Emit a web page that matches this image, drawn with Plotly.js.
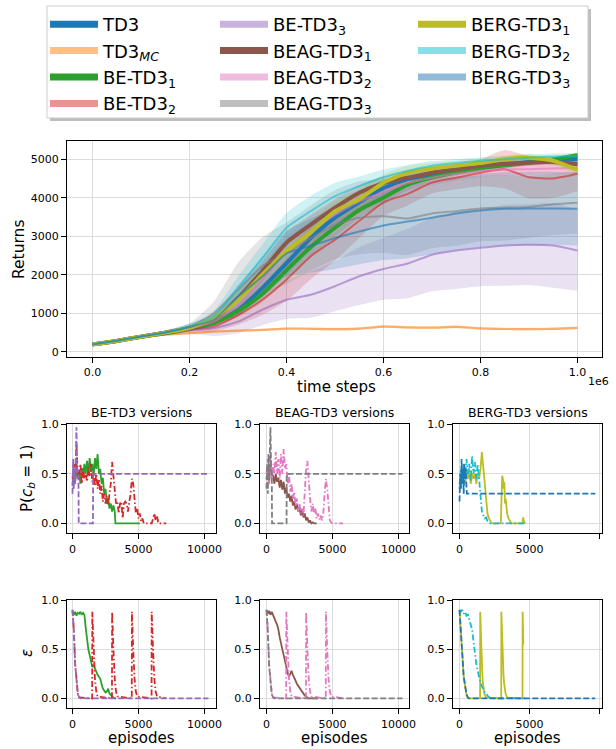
<!DOCTYPE html>
<html><head><meta charset="utf-8">
<script src="https://cdn.plot.ly/plotly-3.0.1.min.js"></script>
<style>html,body{margin:0;padding:0;background:#fff}#chart{width:616px;height:749px}</style>
</head><body><div id="chart"></div>
<script>
const W = 616, H = 749;
const FONT = 'DejaVu Sans, sans-serif';

// ---------- main plot data (time steps) ----------
const STEPS = [0,50000,100000,150000,200000,250000,300000,350000,400000,450000,500000,550000,600000,650000,700000,750000,800000,850000,900000,950000,1000000];
const X_TICKVALS = [0,200000,400000,600000,800000,1000000];
const X_TICKTEXT = ['0.0','0.2','0.4','0.6','0.8','1.0'];
const Y_TICKVALS = [0,1000,2000,3000,4000,5000];

const TD3_MEAN   = [190,280,390,490,600,760,1080,1650,2300,2950,3480,3880,4250,4480,4610,4700,4790,4860,4930,4970,5000];
const TD3_STD    = [20,25,30,40,50,80,150,250,300,320,300,260,220,180,150,130,110,100,90,80,80];
const MC_MEAN    = [185,275,380,440,480,520,545,565,600,595,585,600,650,630,625,645,605,590,585,595,620];
const MC_STD     = [15,15,20,20,25,25,30,30,30,35,35,35,35,35,35,35,35,35,35,35,35];
const BE1_MEAN   = [185,275,385,480,590,740,1050,1500,2120,2720,3220,3680,4000,4340,4520,4650,4760,4840,4910,4990,5100];
const BE1_STD    = [20,25,30,40,50,80,150,220,260,260,240,200,170,140,120,100,90,80,70,60,60];
const BE2_MEAN   = [185,275,380,475,570,650,950,1350,1870,2480,2910,3400,3880,4100,4390,4520,4650,4740,4530,4500,4620];
const BE2_STD    = [20,25,30,40,60,120,250,400,550,600,550,450,350,300,280,300,350,500,550,500,450];
const BE3_MEAN   = [185,270,370,460,550,610,780,1090,1350,1480,1700,1960,2150,2290,2520,2630,2700,2760,2780,2760,2630];
const BE3_STD    = [20,25,30,40,80,200,300,400,500,600,650,750,800,900,950,1000,1000,1050,1050,1100,1050];
const BEAG1_MEAN = [190,280,390,495,620,830,1390,2090,2830,3300,3740,4130,4380,4520,4650,4740,4830,4880,4910,4930,4870];
const BEAG1_STD  = [20,25,30,40,60,120,200,250,280,260,230,200,170,150,130,110,100,90,80,80,80];
const BEAG2_MEAN = [190,280,390,490,600,780,1200,1850,2600,3150,3550,3900,4150,4380,4520,4620,4700,4730,4740,4760,4780];
const BEAG2_STD  = [20,25,30,40,60,120,250,350,400,380,340,300,260,220,200,180,160,150,150,150,150];
const BEAG3_MEAN = [190,285,395,500,640,1000,1610,2220,2560,2950,3300,3480,3520,3460,3590,3650,3720,3740,3760,3830,3870];
const BEAG3_STD  = [20,25,35,50,100,300,700,750,800,850,900,950,950,950,900,900,850,850,800,800,800];
const BERG1_MEAN = [190,280,390,495,620,870,1350,2000,2610,3100,3650,3960,4390,4650,4760,4830,4900,5000,5040,4960,4720];
const BERG1_STD  = [20,25,30,40,60,120,220,280,300,300,280,250,220,180,150,130,110,100,100,110,150];
const BERG2_MEAN = [190,285,395,500,650,910,1650,2430,3220,3650,4040,4300,4530,4700,4830,4900,4960,5000,5040,5070,5090];
const BERG2_STD  = [20,25,35,50,80,150,300,350,380,400,350,250,200,150,120,100,90,80,80,80,80];
const BERG3_MEAN = [190,285,395,500,640,830,1430,1950,2550,2750,2950,3120,3280,3380,3480,3590,3670,3710,3720,3720,3710];
const BERG3_STD  = [20,25,35,50,80,150,300,500,600,700,800,850,900,950,950,950,950,950,950,950,950];

const LEGEND_NAMES = ['TD3','TD3<sub><i>MC</i></sub>','BE-TD3<sub>1</sub>','BE-TD3<sub>2</sub>','BE-TD3<sub>3</sub>',
  'BEAG-TD3<sub>1</sub>','BEAG-TD3<sub>2</sub>','BEAG-TD3<sub>3</sub>','BERG-TD3<sub>1</sub>','BERG-TD3<sub>2</sub>','BERG-TD3<sub>3</sub>'];

// ---------- small plots data (episodes) ----------
// dense parts: sampled at a fixed episode step from 0; tails: explicit points
const BE1_P_Y = [0.38,0.55,0.42,0.6,0.45,0.52,0.4,0.56,0.47,0.6,0.5,0.63,0.5,0.66,0.52,0.6,0.48,0.66,0.55,0.7,0.5,0.55,0.4,0.46,0.3,0.35,0.2,0.26,0.15,0.2,0.12,0.18,0.12];
const BE1_P_TX = [3250,5100]; const BE1_P_TY = [0,0];
const BE2_P_Y = [0.45,0.6,0.4,0.8,0.5,0.45,0.6,0.4,0.55,0.45, 0.5,0.42,0.56,0.48,0.6,0.42,0.52,0.38,0.5,0.35, 0.45,0.3,0.38,0.22,0.3,0.2,0.28,0.18,0.3,0.4, 0.62,0.48,0.3,0.2,0.22,0.1,0.2,0.22,0.05,0.2, 0.22,0.2,0.12,0.2,0.3,0.45,0.4,0.25,0.1,0.15, 0.05,0.1,0.02,0.05,0,0];
const BE2_P_TX = [6000,6100,6200,6300,6400,6500,7100]; const BE2_P_TY = [0,0.05,0.1,0.03,0.08,0,0];
const BE3_P_Y = [0.3,0.65,0.35,0.55,0.4,0.8,0.97,0.5,0.55,0.5];
const BE3_P_TX = [470,1550,1560,10300]; const BE3_P_TY = [0,0,0.5,0.5];

const BEAG1_P_Y = [0.45,0.55,0.42,0.58,0.5,0.48,0.4,0.5,0.42,0.46, 0.36,0.44,0.34,0.42,0.3,0.36,0.26,0.3,0.22,0.28, 0.18,0.22,0.14,0.2,0.12,0.16,0.08,0.14,0.06,0.1, 0.03,0.06,0.01,0.03,0,0.01,0,0,0];
const BEAG2_P_Y = [0.5,0.65,0.4,0.7,0.45,0.6,0.5,0.72,0.5,0.65, 0.45,0.7,0.5,0.75,0.55,0.6,0.4,0.5,0.32,0.4, 0.25,0.32,0.18,0.25,0.12,0.2,0.1,0.15,0.08,0.3, 0.55,0.63,0.4,0.25,0.12,0.2,0.1,0.15,0.05,0.1, 0.04,0.08,0.03,0.1,0.3,0.45,0.35,0.15,0.03,0.01, 0];
const BEAG2_P_TX = [5800]; const BEAG2_P_TY = [0];
const BEAG3_P_Y = [0.35,0.6,0.3,0.7,0.45,0.75,0.97,0.55,0.5];
const BEAG3_P_TX = [420,1520,1530,10300]; const BEAG3_P_TY = [0,0,0.5,0.5];

const BERG1_P_Y = [0.4,0.5,0.45,0.55,0.4,0.5,0.45,0.55,0.4,0.5, 0.45,0.5,0.4,0.5,0.45,0.55,0.72,0.55,0.4,0.25, 0.1,0.05,0.02,0];
const BERG1_P_TX = [2950,3000,3050,3100,3150,3200,3250,3300,3400,3500,3600,3700,4500,4550,4600,4700];
const BERG1_P_TY = [0,0.3,0.48,0.45,0.35,0.42,0.2,0.25,0.1,0.05,0.02,0,0,0.06,0.02,0];
const BERG2_P_Y = [0.35,0.55,0.4,0.6,0.45,0.65,0.5,0.6,0.42,0.68, 0.5,0.62,0.45,0.6,0.45,0.25,0.12,0.08,0.05,0.06, 0.02,0.01];
const BERG2_P_TX = [2200,4700]; const BERG2_P_TY = [0,0];
const BERG3_P_Y = [0.22,0.5,0.35,0.65,0.4,0.55,0.3,0.6,0.45,0.55,0.35];
const BERG3_P_TX = [530,9700]; const BERG3_P_TY = [0.3,0.3];

// epsilon
const BE1_E_Y = [0.88,0.85,0.88,0.84,0.87,0.86,0.88,0.85,0.87,0.85, 0.72,0.6,0.5,0.44,0.36,0.32,0.34,0.3,0.28,0.24, 0.22,0.2,0.15,0.1,0.08,0.06,0.07,0.1,0.05,0.03, 0.02,0.01,0];
const BE1_E_TX = [3300]; const BE1_E_TY = [0];
const BE2_E_X = [0,100,200,300,400,500, 1490,1500,1550,1600,1650,1700,1800,1900, 2990,3000,3050,3100,3150,3200,3300,3400, 4490,4500,4550,4600,4650,4700,4800,4900, 5990,6000,6050,6100,6150,6200,6300,6400, 7100];
const BE2_E_Y = [0.9,0.7,0.35,0.15,0.05,0.01, 0,0.88,0.7,0.5,0.33,0.2,0.07,0.02, 0,0.88,0.7,0.5,0.33,0.2,0.07,0.02, 0,0.88,0.7,0.5,0.33,0.2,0.07,0.02, 0,0.88,0.7,0.5,0.33,0.2,0.07,0.02, 0];
const BE3_E_X = [0,100,200,300,400,500,600,10300];
const BE3_E_Y = [0.9,0.7,0.35,0.15,0.05,0.01,0,0];

const BEAG1_E_Y = [0.9,0.86,0.89,0.85,0.88,0.84,0.82,0.78,0.75,0.7, 0.62,0.56,0.5,0.44,0.38,0.3,0.26,0.22,0.26,0.28, 0.24,0.2,0.18,0.15,0.13,0.1,0.08,0.06,0.05,0.03, 0.02,0.01,0];
const BEAG1_E_TX = [3900]; const BEAG1_E_TY = [0];
const BEAG2_E_X = [0,100,200,300,400,500, 1490,1500,1550,1600,1650,1700,1800,1900, 2990,3000,3050,3100,3150,3200,3300,3400, 4490,4500,4550,4600,4650,4700,4800,4900, 5900];
const BEAG2_E_Y = [0.9,0.7,0.35,0.15,0.05,0.01, 0,0.88,0.7,0.5,0.33,0.2,0.07,0.02, 0,0.88,0.7,0.5,0.33,0.2,0.07,0.02, 0,0.88,0.7,0.5,0.33,0.2,0.07,0.02, 0];
const BEAG3_E_X = [0,100,200,300,400,500,600,10300];
const BEAG3_E_Y = [0.9,0.68,0.33,0.13,0.04,0.01,0,0];

const BERG1_E_X = [0,100,200,300,400,500,600, 1470,1480,1530,1580,1630,1680,1780,1880, 2980,2990,3040,3090,3140,3190,3290,3390, 4500,4510,4560];
const BERG1_E_Y = [0.9,0.72,0.45,0.22,0.1,0.04,0, 0,0.88,0.62,0.4,0.25,0.15,0.05,0.01, 0,0.88,0.62,0.4,0.25,0.15,0.05,0.01, 0,0.88,0.55];
const BERG2_E_Y = [0.9,0.88,0.9,0.86,0.88,0.84,0.85,0.8,0.76,0.7, 0.58,0.45,0.35,0.28,0.2,0.16,0.12,0.1,0.06,0.05, 0.03,0.01,0];
const BERG2_E_TX = [4700]; const BERG2_E_TY = [0];
const BERG3_E_X = [0,100,200,300,400,500,600,700,9700];
const BERG3_E_Y = [0.9,0.72,0.45,0.22,0.1,0.04,0.01,0,0];

// ---------- helpers ----------
function seq(start, step, n){ const a=[]; for(let i=0;i<n;i++) a.push(start+i*step); return a; }
function dense(step, ys, tx, ty){ return {x: seq(0, step, ys.length).concat(tx||[]), y: ys.concat(ty||[])}; }
const RGB = {blue:'31,119,180', orange:'255,127,14', green:'44,160,44', red:'214,39,40', purple:'148,103,189',
  brown:'140,86,75', pink:'227,119,194', grey:'127,127,127', olive:'188,189,34', cyan:'23,190,207'};
const rgba = (k,a) => 'rgba(' + RGB[k] + ',' + a + ')';

// series table: [mean, std, color, lineWidth, lineAlpha]
const MAIN = [
  [TD3_MEAN, TD3_STD, 'blue', 4, 1],
  [MC_MEAN, MC_STD, 'orange', 2.2, 0.55],
  [BE1_MEAN, BE1_STD, 'green', 4, 1],
  [BE2_MEAN, BE2_STD, 'red', 2, 0.6],
  [BE3_MEAN, BE3_STD, 'purple', 2, 0.6],
  [BEAG1_MEAN, BEAG1_STD, 'brown', 4, 1],
  [BEAG2_MEAN, BEAG2_STD, 'pink', 2, 0.6],
  [BEAG3_MEAN, BEAG3_STD, 'grey', 2, 0.6],
  [BERG1_MEAN, BERG1_STD, 'olive', 4, 1],
  [BERG2_MEAN, BERG2_STD, 'cyan', 2, 0.6],
  [BERG3_MEAN, BERG3_STD, 'blue', 2, 0.6]
];
const LEGEND_ALPHA = [1,0.5,1,0.5,0.5,1,0.5,0.5,1,0.5,0.5];
const LEGEND_ID = ['legend','legend','legend','legend','legend2','legend2','legend2','legend2','legend3','legend3','legend3'];

const traces = [];
const SM = 0.6;
MAIN.forEach(([m, s, c]) => {
  traces.push({x: STEPS, y: m.map((v,i)=>v-s[i]), mode:'lines', line:{width:0, shape:'spline', smoothing:SM}, showlegend:false, hoverinfo:'skip'});
  traces.push({x: STEPS, y: m.map((v,i)=>v+s[i]), mode:'lines', line:{width:0, shape:'spline', smoothing:SM}, fill:'tonexty', fillcolor: rgba(c,0.2), showlegend:false, hoverinfo:'skip'});
});
MAIN.forEach(([m, s, c, w, a]) => {
  traces.push({x: STEPS, y: m, mode:'lines', line:{color: rgba(c,a), width:w, shape:'spline', smoothing:SM}, showlegend:false});
});
MAIN.forEach(([m, s, c], i) => {
  traces.push({x:[null], y:[null], mode:'lines', name: LEGEND_NAMES[i], legend: LEGEND_ID[i],
    line:{color: rgba(c, LEGEND_ALPHA[i]), width:7}, showlegend:true});
});

const DASH2 = '6px,2.5px,1.5px,2.5px';
const DASH3 = '6px,2.5px';
const SMALL = [
  // [xaxis, yaxis, color, dash, data]
  ['x2','y2','green','solid', dense(100, BE1_P_Y, BE1_P_TX, BE1_P_TY)],
  ['x2','y2','red',DASH2, dense(100, BE2_P_Y, BE2_P_TX, BE2_P_TY)],
  ['x2','y2','purple',DASH3, dense(50, BE3_P_Y, BE3_P_TX, BE3_P_TY)],
  ['x3','y3','brown','solid', dense(100, BEAG1_P_Y)],
  ['x3','y3','pink',DASH2, dense(100, BEAG2_P_Y, BEAG2_P_TX, BEAG2_P_TY)],
  ['x3','y3','grey',DASH3, dense(50, BEAG3_P_Y, BEAG3_P_TX, BEAG3_P_TY)],
  ['x4','y4','olive','solid', dense(100, BERG1_P_Y, BERG1_P_TX, BERG1_P_TY)],
  ['x4','y4','cyan',DASH2, dense(100, BERG2_P_Y, BERG2_P_TX, BERG2_P_TY)],
  ['x4','y4','blue',DASH3, dense(50, BERG3_P_Y, BERG3_P_TX, BERG3_P_TY)],
  ['x5','y5','green','solid', dense(100, BE1_E_Y, BE1_E_TX, BE1_E_TY)],
  ['x5','y5','red',DASH2, {x: BE2_E_X, y: BE2_E_Y}],
  ['x5','y5','purple',DASH3, {x: BE3_E_X, y: BE3_E_Y}],
  ['x6','y6','brown','solid', dense(100, BEAG1_E_Y, BEAG1_E_TX, BEAG1_E_TY)],
  ['x6','y6','pink',DASH2, {x: BEAG2_E_X, y: BEAG2_E_Y}],
  ['x6','y6','grey',DASH3, {x: BEAG3_E_X, y: BEAG3_E_Y}],
  ['x7','y7','olive','solid', {x: BERG1_E_X, y: BERG1_E_Y}],
  ['x7','y7','cyan',DASH2, dense(100, BERG2_E_Y, BERG2_E_TX, BERG2_E_TY)],
  ['x7','y7','blue',DASH3, {x: BERG3_E_X, y: BERG3_E_Y}]
];
SMALL.forEach(([xa, ya, c, d, data]) => {
  traces.push({x: data.x, y: data.y, xaxis: xa, yaxis: ya, mode:'lines', line:{color: rgba(c,1), width:1.8, dash:d}, showlegend:false});
});

// ---------- layout ----------
const px = v => v / W, py = v => 1 - v / H;
const axCommon = {showline:true, mirror:true, linecolor:'#000', linewidth:1, ticks:'outside', ticklen:5, tickwidth:1, tickcolor:'#000',
  showgrid:true, gridcolor:'#dcdcdc', gridwidth:1, zeroline:false, tickfont:{family:FONT, size:11, color:'#000'}, fixedrange:true};
// pixel-aligned subplot boxes (left, right) and x ranges
const COLS = [[67,216],[260,409],[453,602]];
const XR = [[-417,10871],[-492,10795],[-464,10179]];
const ROWS = [[424.3,533.3],[600,708.3]];
const layout = {
  width:W, height:H, margin:{l:0,r:0,t:0,b:0}, paper_bgcolor:'#fff', plot_bgcolor:'#fff', showlegend:true,
  font:{family:FONT, color:'#000'},
  xaxis: Object.assign({}, axCommon, {domain:[px(67), px(602)], range:[-52577,1050515], tickvals:X_TICKVALS, ticktext:X_TICKTEXT, anchor:'y'}),
  yaxis: Object.assign({}, axCommon, {domain:[py(356.7), py(140.7)], range:[-130,5480], tickvals:Y_TICKVALS, ticktext:Y_TICKVALS.map(String), anchor:'x'}),
  annotations:[], shapes:[]
};
let k = 2;
ROWS.forEach((r) => {
  COLS.forEach((c, ci) => {
    layout['xaxis'+k] = Object.assign({}, axCommon, {domain:[px(c[0]), px(c[1])], range:XR[ci], tickvals:[0,5000,10000], ticktext:['0','5000','10000'], anchor:'y'+k});
    layout['yaxis'+k] = Object.assign({}, axCommon, {domain:[py(r[1]), py(r[0])], range:[-0.1,1.0], tickvals:[0,0.5,1], ticktext:['0.0','0.5','1.0'], anchor:'x'+k});
    k++;
  });
});
const legCommon = {xanchor:'left', yanchor:'top', bgcolor:'rgba(0,0,0,0)', borderwidth:0, font:{family:FONT, size:18, color:'#000'},
  itemwidth:48, traceorder:'normal', orientation:'v'};
layout.legend  = Object.assign({}, legCommon, {x:px(45), y:py(6)});
layout.legend2 = Object.assign({}, legCommon, {x:px(215), y:py(6)});
layout.legend3 = Object.assign({}, legCommon, {x:px(413), y:py(6)});

layout.shapes.push({type:'rect', xref:'paper', yref:'paper', x0:px(50), x1:px(591), y0:py(121), y1:py(9), fillcolor:'#bdbdbd', line:{width:0}, layer:'below'});
layout.shapes.push({type:'rect', xref:'paper', yref:'paper', x0:px(47), x1:px(588), y0:py(118), y1:py(6), fillcolor:'#fff', line:{color:'#cccccc', width:1}, layer:'below'});

const ann = (text, x, y, size, extra) => Object.assign({text, x:px(x), y:py(y), xref:'paper', yref:'paper', showarrow:false,
  xanchor:'center', yanchor:'middle', font:{family:FONT, size, color:'#000'}}, extra||{});
layout.annotations.push(ann('Returns', 19, 249, 15.5, {textangle:-90}));
layout.annotations.push(ann('time steps', 336, 387, 15));
layout.annotations.push(ann('1e6', 598, 381, 11));
const TITLES = ['BE-TD3 versions','BEAG-TD3 versions','BERG-TD3 versions'];
COLS.forEach((c, i) => {
  const cx = (c[0]+c[1])/2;
  layout.annotations.push(ann(TITLES[i], cx, 413, 12.5));
  layout.annotations.push(ann('episodes', cx, 738, 15));
});
layout.annotations.push(ann('P(<i>c</i><sub><i>b</i></sub> = 1)', 27, 479, 15, {textangle:-90}));
layout.annotations.push(ann('<i>ε</i>', 27, 653, 15, {textangle:-90}));

Plotly.newPlot('chart', traces, layout, {displayModeBar:false, staticPlot:true});
</script></body></html>
